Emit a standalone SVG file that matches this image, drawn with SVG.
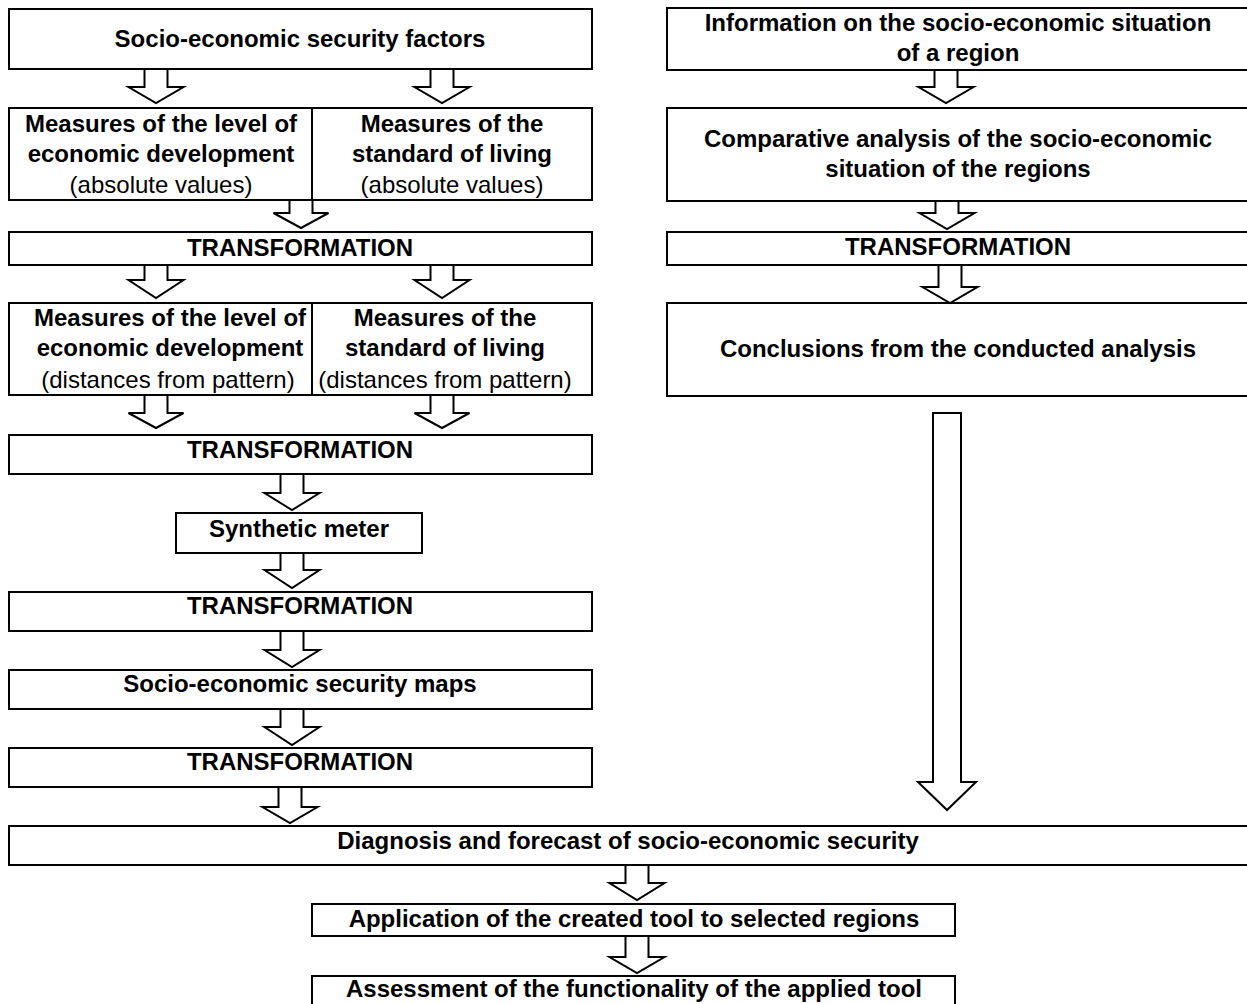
<svg xmlns="http://www.w3.org/2000/svg" width="1247" height="1004" viewBox="0 0 1247 1004">
<style>
.box{fill:#fff;stroke:#000;stroke-width:2}
.div{stroke:#000;stroke-width:2}
.arr{fill:#fff;stroke:#000;stroke-width:2;stroke-linejoin:miter}
text{font-family:"Liberation Sans",Arial,sans-serif;font-size:24px;fill:#000;text-anchor:middle}
.b{font-weight:bold}
</style>
<rect width="1247" height="1004" fill="#fff"/>
<g id="factors"><rect class="box" x="9" y="9" width="583" height="60"/><text class="b" x="300" y="47">Socio-economic security factors</text></g>
<g id="measures-abs"><rect class="box" x="9" y="108" width="583" height="92"/><line class="div" x1="312" y1="108" x2="312" y2="200"/>
<text class="b" x="161" y="132">Measures of the level of</text><text class="b" x="161" y="162">economic development</text><text x="161" y="193">(absolute values)</text>
<text class="b" x="452" y="132">Measures of the</text><text class="b" x="452" y="162">standard of living</text><text x="452" y="193">(absolute values)</text></g>
<g id="transf1"><rect class="box" x="9" y="232" width="583" height="33"/><text class="b" x="300" y="256">TRANSFORMATION</text></g>
<g id="measures-dist"><rect class="box" x="9" y="303" width="583" height="92"/><line class="div" x1="312" y1="303" x2="312" y2="395"/>
<text class="b" x="170" y="326">Measures of the level of</text><text class="b" x="170" y="356">economic development</text><text x="168" y="388">(distances from pattern)</text>
<text class="b" x="445" y="326">Measures of the</text><text class="b" x="445" y="356">standard of living</text><text x="445" y="388">(distances from pattern)</text></g>
<g id="transf2"><rect class="box" x="9" y="435" width="583" height="39"/><text class="b" x="300" y="458">TRANSFORMATION</text></g>
<g id="synthetic"><rect class="box" x="176" y="513" width="246" height="40"/><text class="b" x="299" y="537">Synthetic meter</text></g>
<g id="transf3"><rect class="box" x="9" y="592" width="583" height="39"/><text class="b" x="300" y="614">TRANSFORMATION</text></g>
<g id="maps"><rect class="box" x="9" y="670" width="583" height="39"/><text class="b" x="300" y="692">Socio-economic security maps</text></g>
<g id="transf4"><rect class="box" x="9" y="748" width="583" height="39"/><text class="b" x="300" y="770">TRANSFORMATION</text></g>
<g id="info"><rect class="box" x="667" y="8" width="582" height="62"/><text class="b" x="958" y="31">Information on the socio-economic situation</text><text class="b" x="958" y="61">of a region</text></g>
<g id="comparative"><rect class="box" x="667" y="108" width="582" height="93"/><text class="b" x="958" y="147">Comparative analysis of the socio-economic</text><text class="b" x="958" y="177">situation of the regions</text></g>
<g id="transf-r"><rect class="box" x="667" y="232" width="582" height="33"/><text class="b" x="958" y="255">TRANSFORMATION</text></g>
<g id="conclusions"><rect class="box" x="667" y="303" width="582" height="93"/><text class="b" x="958" y="357">Conclusions from the conducted analysis</text></g>
<g id="diagnosis"><rect class="box" x="9" y="826" width="1240" height="39"/><text class="b" x="628" y="849">Diagnosis and forecast of socio-economic security</text></g>
<g id="application"><rect class="box" x="312" y="904" width="643" height="32"/><text class="b" x="634" y="927">Application of the created tool to selected regions</text></g>
<g id="assessment"><rect class="box" x="312" y="976" width="643" height="32"/><text class="b" x="634" y="997">Assessment of the functionality of the applied tool</text></g>
<g id="connectors">
<path class="arr" d="M144.5,69 H167.5 V87 H183.5 L156,103 L128.5,87 H144.5 Z"/>
<path class="arr" d="M430.5,69 H453.5 V87 H469.5 L442,103 L414.5,87 H430.5 Z"/>
<path class="arr" d="M289.5,200 H312.5 V213 H328.5 L301,228 L273.5,213 H289.5 Z"/>
<path class="arr" d="M144.5,265 H167.5 V280 H183.5 L156,298 L128.5,280 H144.5 Z"/>
<path class="arr" d="M430.5,265 H453.5 V280 H469.5 L442,298 L414.5,280 H430.5 Z"/>
<path class="arr" d="M144.5,395 H167.5 V413 H183.5 L156,428 L128.5,413 H144.5 Z"/>
<path class="arr" d="M430.5,395 H453.5 V413 H469.5 L442,428 L414.5,413 H430.5 Z"/>
<path class="arr" d="M280.5,474 H303.5 V493 H319.5 L292,510 L264.5,493 H280.5 Z"/>
<path class="arr" d="M280.5,553 H303.5 V570 H319.5 L292,588 L264.5,570 H280.5 Z"/>
<path class="arr" d="M280.5,631 H303.5 V650 H319.5 L292,667 L264.5,650 H280.5 Z"/>
<path class="arr" d="M280.5,709 H303.5 V727 H319.5 L292,745 L264.5,727 H280.5 Z"/>
<path class="arr" d="M278.5,787 H301.5 V807 H317.5 L290,823 L262.5,807 H278.5 Z"/>
<path class="arr" d="M625.5,865 H648.5 V883 H664.5 L637,900 L609.5,883 H625.5 Z"/>
<path class="arr" d="M625.5,936 H648.5 V957 H664.5 L637,973 L609.5,957 H625.5 Z"/>
<path class="arr" d="M934.5,70 H957.5 V87 H973.5 L946,103 L918.5,87 H934.5 Z"/>
<path class="arr" d="M935.5,201 H958.5 V213 H974.5 L947,229 L919.5,213 H935.5 Z"/>
<path class="arr" d="M938.5,265 H961.5 V287 H977.5 L950,303 L922.5,287 H938.5 Z"/>
<path class="arr" d="M933,413 H961 V782 H976 L947,810 L918,782 H933 Z"/>
</g>
</svg>
